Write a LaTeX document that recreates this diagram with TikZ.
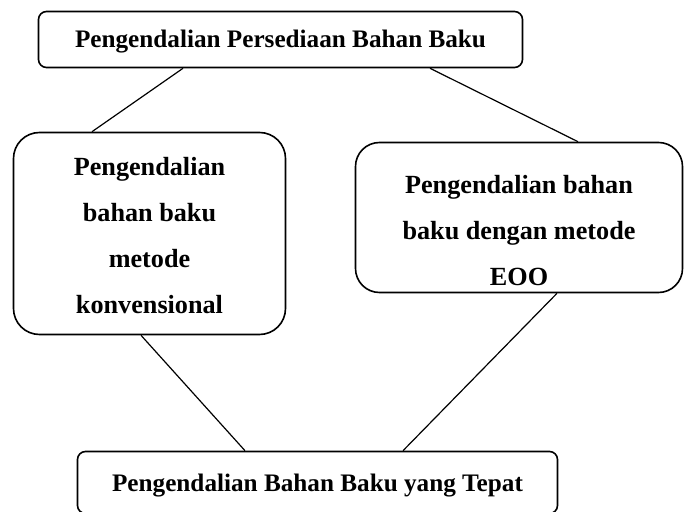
\documentclass[tikz,border=0pt]{standalone}
\usepackage{fontspec}
\setmainfont{Liberation Serif}
\usepackage{tikz}
\usetikzlibrary{calc}

\begin{document}
\begin{tikzpicture}[x=0.5pt, y=-0.5pt,
        box/.style={draw, line width=0.8pt, inner sep=0pt},
        txt/.style={align=center, inner sep=0pt, font=\fontsize{13.1}{23}\selectfont\bfseries},
        wide/.style={txt, font=\fontsize{12.6}{23}\selectfont\bfseries},
        link/.style={line width=0.6pt}]
    \useasboundingbox (0,0) rectangle (684,512);
    % kotak
    \node[box, rounded corners=4pt, minimum width=242pt, minimum height=28pt] (persediaan) at (280.5,39.5) {};
    \node[box, rounded corners=13pt, minimum width=136pt, minimum height=101pt] (konv) at (149.5,233.5) {};
    \node[box, rounded corners=12pt, minimum width=163.5pt, minimum height=75pt] (eoq) at (519,217.5) {};
    \node[box, rounded corners=4pt, minimum width=240pt, minimum height=31pt] (tepat) at (317.5,482.5) {};
    % teks
    \node[wide] (persediaantxt) at ([yshift=-1.25pt]persediaan.center) {Pengendalian Persediaan Bahan Baku};
    \node[txt] (konvtxt) at ([yshift=-1.05pt]konv.center) {Pengendalian\\bahan baku\\metode\\konvensional};
    \node[txt] (eoqtxt) at ([yshift=-6.3pt]eoq.center) {Pengendalian bahan\\baku dengan metode\\EOO};
    \node[wide] (tepattxt) at ([yshift=-1.75pt]tepat.center) {Pengendalian Bahan Baku yang Tepat};
    % garis
    \draw[link] (persediaan.south -| 183,0) -- (konv.north -| 92,0);
    \draw[link] (persediaan.south -| 430,0) -- (eoq.north -| 578,0);
    \draw[link] (konv.south -| 141,0) -- (tepat.north -| 245,0);
    \draw[link] (eoq.south -| 557,0) -- (tepat.north -| 403,0);
\end{tikzpicture}
\end{document}
